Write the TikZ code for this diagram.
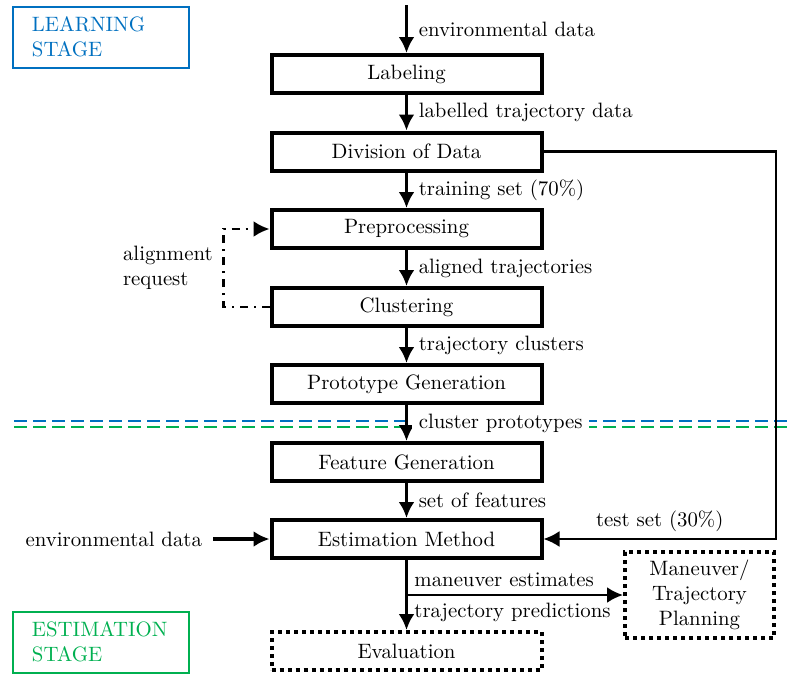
\documentclass[tikz,border=0pt]{standalone}
\usetikzlibrary{arrows.meta}
\definecolor{stageblue}{RGB}{0,112,192}
\definecolor{stagegreen}{RGB}{0,176,80}

\begin{document}
\begin{tikzpicture}[
    x=0.5pt, y=-0.5pt,
    every node/.style={font=\fontsize{10.4pt}{12.5pt}\selectfont},
    block/.style={rectangle, draw, line width=2pt, minimum width=135pt, minimum height=19pt, inner sep=0pt},
    outblock/.style={block, dash pattern=on 2pt off 2pt},
    stagebox/.style={rectangle, draw, line width=1pt, minimum width=88pt, minimum height=30.5pt, text width=69pt, inner xsep=9.5pt, align=left},
    flow/.style={-{Latex[length=8pt,width=8pt]}, line width=1.6pt},
    route/.style={-{Latex[length=8pt,width=8pt]}, line width=1.1pt},
    lbl/.style={right=2pt},
    divider/.style={line width=1pt, dash pattern=on 6.5pt off 3pt},
]
\useasboundingbox (0,0) rectangle (787,675);

% stage separation
\draw[divider, stageblue] (14,421) -- (787,421);
\draw[divider, stagegreen] (14,427) -- (787,427);

\node[stagebox, stageblue] (learnstage) at (101,37) {LEARNING\\STAGE};
\node[stagebox, stagegreen] (estimstage) at (101,642) {ESTIMATION\\STAGE};

\node[block] (labeling) at (406.5,74) {Labeling};
\node[block] (division) at (406.5,151.5) {Division of Data};
\node[block] (prep) at (406.5,229) {Preprocessing};
\node[block] (clust) at (406.5,307) {Clustering};
\node[block] (proto) at (406.5,384) {Prototype Generation};
\node[block] (feat) at (406.5,462) {Feature Generation};
\node[block] (estim) at (406.5,539) {Estimation Method};
\node[outblock] (evalu) at (406.5,651) {Evaluation};
\node[outblock, minimum width=74.5pt, minimum height=43pt, align=center] (plan) at (699.5,595) {Maneuver/\\Trajectory\\Planning};

\coordinate (envtop) at (406.5,5);
\coordinate (testcorner) at (776,539);
\coordinate (branch) at (406.5,595);
\node[anchor=east] (envleft) at (209,539) {environmental data};

\draw[flow] (envtop) -- node[lbl]{environmental data} (labeling);
\draw[flow] (labeling) -- node[lbl]{labelled trajectory data} (division);
\draw[flow] (division) -- node[lbl]{training set (70\%)} (prep);
\draw[flow] (prep) -- node[lbl]{aligned trajectories} (clust);
\draw[flow] (clust) -- node[lbl]{trajectory clusters} (proto);
\draw[flow] (proto) -- node[lbl, fill=white, inner ysep=1pt]{cluster prototypes} (feat);
\draw[flow] (feat) -- node[lbl]{set of features} (estim);
\draw[flow] (estim) -- (evalu);

\draw[route, line width=1.3pt, dash pattern=on 4pt off 3pt on 1pt off 3pt] (clust.west) -- ++(-46,0) |- (prep.west);
\node[align=left, anchor=west] (alignreq) at (116,267.5) {alignment\\request};

\draw[route] (division.east) -| (testcorner) -- node[midway, above]{test set (30\%)} (estim.east);
\draw[flow] (envleft.east) ++(4,0) -- (estim.west);
\draw[route, line width=1.3pt] (branch) -- node[pos=0, above right]{maneuver estimates}
    node[pos=0, below right]{trajectory predictions} (plan.west);
\end{tikzpicture}
\end{document}
